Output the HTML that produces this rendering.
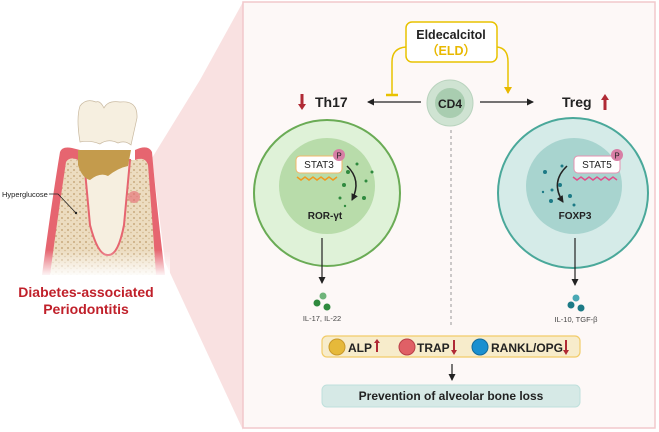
<!DOCTYPE html>
<html><head><meta charset="utf-8"><style>body{margin:0;background:#fff}svg{display:block}text{font-family:"Liberation Sans",sans-serif}</style></head><body>
<svg width="659" height="432" viewBox="0 0 659 432" xmlns="http://www.w3.org/2000/svg">
<defs>
<marker id="ah" markerUnits="userSpaceOnUse" markerWidth="8" markerHeight="8" refX="6" refY="4" orient="auto"><path d="M0,0.5 L7,4 L0,7.5 z" fill="#222"/></marker>
<marker id="ay" markerUnits="userSpaceOnUse" markerWidth="9" markerHeight="9" refX="6" refY="4.5" orient="auto"><path d="M0,0.5 L7,4.5 L0,8.5 z" fill="#e8b800"/></marker>
<pattern id="bone" width="6" height="6" patternUnits="userSpaceOnUse"><rect width="6" height="6" fill="#ecdcc0"/><circle cx="2" cy="2" r="1" fill="#c9ab7e"/><circle cx="5" cy="4.5" r="0.8" fill="#d2b88f"/></pattern>
<linearGradient id="fade" x1="0" y1="0" x2="0" y2="1"><stop offset="0" stop-color="#fff" stop-opacity="0"/><stop offset="1" stop-color="#fff" stop-opacity="1"/></linearGradient>
</defs>
<polygon points="243,2 200,80 152,158 165,262 243,430" fill="#f9e1e1"/>
<rect x="243" y="2" width="412" height="426" fill="#fdf8f7" stroke="#f2c8cc" stroke-width="1.5"/>
<!-- tooth -->
<path d="M60,152 Q62,146 72,148 L80,150 L80,165 L135,165 L135,150 Q148,144 152,152 Q156,200 165,275 L42,275 Q52,200 60,152 Z" fill="#e66570"/>
<path d="M66,162 Q70,156 78,160 L135,160 Q145,156 148,165 Q152,215 156,275 L50,275 Q58,215 66,162 Z" fill="url(#bone)"/>
<path d="M84,160 L90,225 Q98,256 108,255 Q118,256 124,225 L130,160 Z" fill="#f6efe0" stroke="#e66570" stroke-width="2"/>
<path d="M78,150 L78,165 Q82,178 90,180 Q100,172 108,176 Q118,168 128,166 L131,150 Z" fill="#c49b4c"/>
<path d="M80,142 Q76,118 80,106 Q86,98 96,102 Q100,100 104,108 Q108,100 120,102 Q138,100 137,118 L131,145 Q125,140 118,143 Q108,138 100,144 Q90,140 80,142 Z" fill="#f6efe0" stroke="#c9b9a0" stroke-width="0.7"/>
<rect x="40" y="250" width="130" height="27" fill="url(#fade)"/>
<circle cx="134" cy="197" r="6" fill="#e66570" opacity="0.6"/>
<text x="2" y="197" font-size="7.5" fill="#222">Hyperglucose</text>
<path d="M49,194 L58,194 L76,213" stroke="#222" stroke-width="0.8" fill="none"/><circle cx="76" cy="213" r="1.2" fill="#222"/>
<text x="86" y="297" font-size="14" font-weight="bold" fill="#c0202a" text-anchor="middle">Diabetes-associated</text>
<text x="86" y="314" font-size="14" font-weight="bold" fill="#c0202a" text-anchor="middle">Periodontitis</text>
<!-- ELD -->
<rect x="406" y="22" width="91" height="40" rx="6" fill="#fff" stroke="#e8c200" stroke-width="1.5"/>
<text x="451" y="39" font-size="12.5" font-weight="bold" fill="#222" text-anchor="middle">Eldecalcitol</text>
<text x="451" y="55" font-size="12.5" font-weight="bold" fill="#e8b800" text-anchor="middle">（ELD）</text>
<path d="M406,47 Q392,48 392,62 L392,95" stroke="#e8c200" stroke-width="1.5" fill="none"/>
<line x1="386" y1="95" x2="398" y2="95" stroke="#e8c200" stroke-width="2.5"/>
<path d="M497,47 Q508,48 508,62 L508,93" stroke="#e8c200" stroke-width="1.5" fill="none" marker-end="url(#ay)"/>
<!-- CD4 -->
<circle cx="450" cy="103" r="23" fill="#cfe3d2" stroke="#b9d3be"/>
<circle cx="450" cy="103" r="15" fill="#a9cdb0"/>
<text x="450" y="108" font-size="12" font-weight="bold" fill="#222" text-anchor="middle">CD4</text>
<line x1="421" y1="102" x2="368" y2="102" stroke="#222" stroke-width="1.3" marker-end="url(#ah)"/>
<line x1="480" y1="102" x2="533" y2="102" stroke="#222" stroke-width="1.3" marker-end="url(#ah)"/>
<text x="315" y="107" font-size="14" font-weight="bold" fill="#222">Th17</text>
<path d="M302,94 L302,104" stroke="#b02a35" stroke-width="3"/><path d="M298,104 L306,104 L302,110z" fill="#b02a35"/>
<text x="562" y="107" font-size="14" font-weight="bold" fill="#222">Treg</text>
<path d="M605,100 L605,110" stroke="#b02a35" stroke-width="3"/><path d="M601,100 L609,100 L605,94z" fill="#b02a35"/>
<line x1="451" y1="130" x2="451" y2="325" stroke="#999" stroke-dasharray="3,3"/>
<!-- Th17 cell -->
<circle cx="327" cy="193" r="73" fill="#dff2d8" stroke="#6aab55" stroke-width="2"/>
<circle cx="327" cy="186" r="48" fill="#b8dcaa"/>
<rect x="296" y="156" width="46" height="17" rx="4" fill="#fff" stroke="#f0b76a"/>
<text x="319" y="168" font-size="10" fill="#222" text-anchor="middle">STAT3</text>
<circle cx="339" cy="155" r="6" fill="#d77fa5"/><text x="339" y="158.5" font-size="8" fill="#222" text-anchor="middle">P</text>
<path d="M297,177 l4,3 4,-3 4,3 4,-3 4,3 4,-3 4,3 4,-3 4,3 4,-3" stroke="#f09a20" fill="none" stroke-width="1.5"/>
<path d="M347,166 Q362,180 352,200" stroke="#222" stroke-width="1.5" fill="none" marker-end="url(#ah)"/>
<g fill="#2f8a3e"><circle cx="348" cy="172" r="2"/><circle cx="357" cy="164" r="1.5"/><circle cx="344" cy="185" r="2"/><circle cx="366" cy="181" r="1.5"/><circle cx="372" cy="172" r="1.5"/><circle cx="364" cy="198" r="2"/><circle cx="340" cy="198" r="1.5"/><circle cx="345" cy="206" r="1.2"/></g>
<text x="325" y="219" font-size="10" font-weight="bold" fill="#222" text-anchor="middle">ROR-γt</text>
<line x1="322" y1="238" x2="322" y2="283" stroke="#222" stroke-width="1.2" marker-end="url(#ah)"/>
<circle cx="323" cy="296" r="3.5" fill="#6fb47a"/><circle cx="317" cy="303" r="3.5" fill="#2f8a3e"/><circle cx="327" cy="307" r="3.5" fill="#2f8a3e"/>
<text x="322" y="321" font-size="7.5" fill="#444" text-anchor="middle">IL-17, IL-22</text>
<!-- Treg cell -->
<circle cx="573" cy="193" r="75" fill="#d5ebe8" stroke="#4aa89a" stroke-width="2"/>
<circle cx="574" cy="186" r="48" fill="#a8d4cf"/>
<rect x="574" y="156" width="46" height="17" rx="4" fill="#fff" stroke="#e592b0"/>
<text x="597" y="168" font-size="10" fill="#222" text-anchor="middle">STAT5</text>
<circle cx="617" cy="155" r="6" fill="#d77fa5"/><text x="617" y="158.5" font-size="8" fill="#222" text-anchor="middle">P</text>
<path d="M573,177 l4,3 4,-3 4,3 4,-3 4,3 4,-3 4,3 4,-3 4,3 4,-3 4,3" stroke="#e0508a" fill="none" stroke-width="1.5"/>
<path d="M567,166 Q550,182 563,202" stroke="#222" stroke-width="1.5" fill="none" marker-end="url(#ah)"/>
<g fill="#1c7a86"><circle cx="545" cy="172" r="2"/><circle cx="552" cy="190" r="1.5"/><circle cx="560" cy="185" r="2"/><circle cx="570" cy="196" r="2"/><circle cx="551" cy="201" r="2"/><circle cx="574" cy="205" r="1.5"/><circle cx="562" cy="166" r="1.5"/><circle cx="543" cy="192" r="1.2"/></g>
<text x="575" y="219" font-size="10" font-weight="bold" fill="#222" text-anchor="middle">FOXP3</text>
<line x1="575" y1="238" x2="575" y2="285" stroke="#222" stroke-width="1.2" marker-end="url(#ah)"/>
<circle cx="576" cy="298" r="3.5" fill="#4aa8b4"/><circle cx="571" cy="305" r="3.5" fill="#1c7a86"/><circle cx="581" cy="308" r="3.5" fill="#1c7a86"/>
<text x="576" y="322" font-size="7.5" fill="#444" text-anchor="middle">IL-10, TGF-β</text>
<!-- bottom -->
<rect x="322" y="336" width="258" height="21" rx="5" fill="#f7eccb" stroke="#f2cc6a" stroke-width="1.2"/>
<circle cx="337" cy="347" r="8" fill="#e6b93a" stroke="#c9992a"/>
<text x="348" y="352" font-size="12" font-weight="bold" fill="#222">ALP</text>
<path d="M377,352 L377,343" stroke="#b02a35" stroke-width="2"/><path d="M374,343 L380,343 L377,339z" fill="#b02a35"/>
<circle cx="407" cy="347" r="8" fill="#e06066" stroke="#b94048"/>
<text x="417" y="352" font-size="12" font-weight="bold" fill="#222">TRAP</text>
<path d="M454,340 L454,350" stroke="#b02a35" stroke-width="2"/><path d="M451,350 L457,350 L454,355z" fill="#b02a35"/>
<circle cx="480" cy="347" r="8" fill="#1a90d0" stroke="#136a9a"/>
<text x="491" y="352" font-size="12" font-weight="bold" fill="#222">RANKL/OPG</text>
<path d="M566,340 L566,350" stroke="#b02a35" stroke-width="2"/><path d="M563,350 L569,350 L566,355z" fill="#b02a35"/>
<line x1="452" y1="364" x2="452" y2="380" stroke="#222" stroke-width="1.2" marker-end="url(#ah)"/>
<rect x="322" y="385" width="258" height="22" rx="5" fill="#d6e9e6" stroke="#bfe0dc"/>
<text x="451" y="400" font-size="12" font-weight="bold" fill="#222" text-anchor="middle">Prevention of alveolar bone loss</text>
</svg>
</body></html>
